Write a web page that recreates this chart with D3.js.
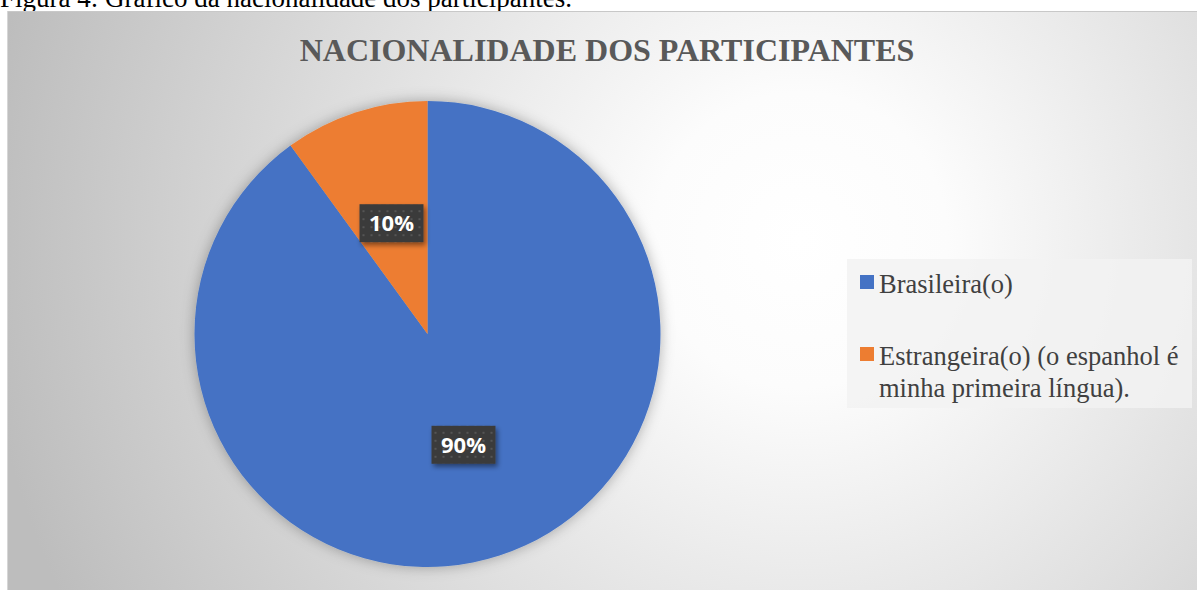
<!DOCTYPE html>
<html>
<head>
<meta charset="utf-8">
<script src="https://cdn.jsdelivr.net/npm/d3@7"></script>
<style>
body{margin:0;background:#fff;}
svg{display:block;}
</style>
</head>
<body>
<svg id="chart"></svg>
<script>
var categories = ["Brasileira(o)", "Estrangeira(o) (o espanhol é minha primeira língua)."]
var legendLines = [["Brasileira(o)"], ["Estrangeira(o) (o espanhol é", "minha primeira língua)."]]
var values = [90, 10]
var labels = ["90%", "10%"]
var colors = ["#4472c4", "#ed7d31"]

var W = 1197, H = 590
var svg = d3.select("#chart").attr("width", W).attr("height", H)
var defs = svg.append("defs")

// chart background gradient
var grad = defs.append("radialGradient").attr("id", "bg")
  .attr("gradientUnits", "userSpaceOnUse")
  .attr("cx", 800).attr("cy", 240).attr("r", 820)
grad.append("stop").attr("offset", "0").attr("stop-color", "#ffffff")
grad.append("stop").attr("offset", "0.18").attr("stop-color", "#fcfcfc")
grad.append("stop").attr("offset", "0.55").attr("stop-color", "#e0e0e0")
grad.append("stop").attr("offset", "1").attr("stop-color", "#bdbdbd")

var shadow = defs.append("filter").attr("id", "glow")
  .attr("x", "-20%").attr("y", "-20%").attr("width", "140%").attr("height", "140%")
shadow.append("feDropShadow").attr("dx", 0).attr("dy", 0)
  .attr("stdDeviation", 7).attr("flood-color", "#000").attr("flood-opacity", 0.3)

var boxShadow = defs.append("filter").attr("id", "boxsh")
  .attr("x", "-30%").attr("y", "-30%").attr("width", "170%").attr("height", "170%")
boxShadow.append("feDropShadow").attr("dx", 2).attr("dy", 3)
  .attr("stdDeviation", 2.5).attr("flood-color", "#000").attr("flood-opacity", 0.45)

var pat = defs.append("pattern").attr("id", "dots")
  .attr("patternUnits", "userSpaceOnUse").attr("width", 8).attr("height", 8)
pat.append("rect").attr("width", 8).attr("height", 8).attr("fill", "#3b3b3b")
pat.append("rect").attr("x", 3).attr("y", 3).attr("width", 2).attr("height", 2).attr("fill", "#555")

// caption above the chart (cut off at top, as in the source page)
svg.append("text")
  .attr("x", 0).attr("y", 7)
  .style("font-family", "'Liberation Serif', 'Times New Roman', serif")
  .style("font-size", "27px")
  .attr("fill", "#000")
  .text("Figura 4: Gráfico da nacionalidade dos participantes.")

svg.append("rect")
  .attr("x", 7).attr("y", 11).attr("width", W - 7).attr("height", H - 11)
  .attr("fill", "url(#bg)")
svg.append("line").attr("x1", 7).attr("x2", W).attr("y1", 11.5).attr("y2", 11.5)
  .attr("stroke", "#c8c8c8")
svg.append("line").attr("x1", 7.5).attr("x2", 7.5).attr("y1", 11).attr("y2", H)
  .attr("stroke", "#d6d6d6")

svg.append("text")
  .attr("x", 607).attr("y", 61)
  .attr("text-anchor", "middle")
  .style("font-family", "'Liberation Serif', 'Times New Roman', serif")
  .style("font-size", "32px").style("font-weight", "bold")
  .attr("fill", "#595959")
  .text("NACIONALIDADE DOS PARTICIPANTES")

// pie
var cx = 427.5, cy = 334, R = 233
var pie = d3.pie().sort(null).value(d => d)
var arcs = pie(values)
var arc = d3.arc().innerRadius(0).outerRadius(R)

var g = svg.append("g").attr("transform", "translate(" + cx + "," + cy + ")")
g.append("g").attr("filter", "url(#glow)")
  .selectAll("path").data(arcs).enter().append("path")
  .attr("d", arc)
  .attr("fill", (d, i) => colors[i])

var lab = g.selectAll("g.lab").data(arcs).enter().append("g")
  .attr("class", "lab")
  .attr("transform", d => "translate(" + arc.centroid(d) + ")")
lab.append("rect")
  .attr("x", -32).attr("y", -19).attr("width", 64).attr("height", 38)
  .attr("fill", "url(#dots)")
  .attr("filter", "url(#boxsh)")
lab.append("text")
  .attr("text-anchor", "middle").attr("y", 8)
  .style("font-family", "'Open Sans', sans-serif")
  .style("font-size", "22px").style("font-weight", "bold")
  .attr("fill", "#fff")
  .text((d, i) => labels[i])

// legend
var lg = svg.append("g")
lg.append("rect")
  .attr("x", 847).attr("y", 259).attr("width", 345).attr("height", 149)
  .attr("fill", "#f2f2f2").attr("fill-opacity", 0.85)
var itemY = [293, 365]
var items = lg.selectAll("g.item").data(categories).enter().append("g").attr("class", "item")
items.append("rect")
  .attr("x", 860).attr("y", (d, i) => itemY[i] - 18)
  .attr("width", 14).attr("height", 14)
  .attr("fill", (d, i) => colors[i])
items.append("text")
  .attr("x", 879).attr("y", (d, i) => itemY[i])
  .style("font-family", "'Liberation Serif', 'Times New Roman', serif")
  .style("font-size", "26.5px")
  .attr("fill", "#404040")
  .selectAll("tspan").data((d, i) => legendLines[i]).enter().append("tspan")
  .attr("x", 879).attr("dy", (d, j) => j == 0 ? 0 : 32)
  .text(d => d)
</script>
</body>
</html>
